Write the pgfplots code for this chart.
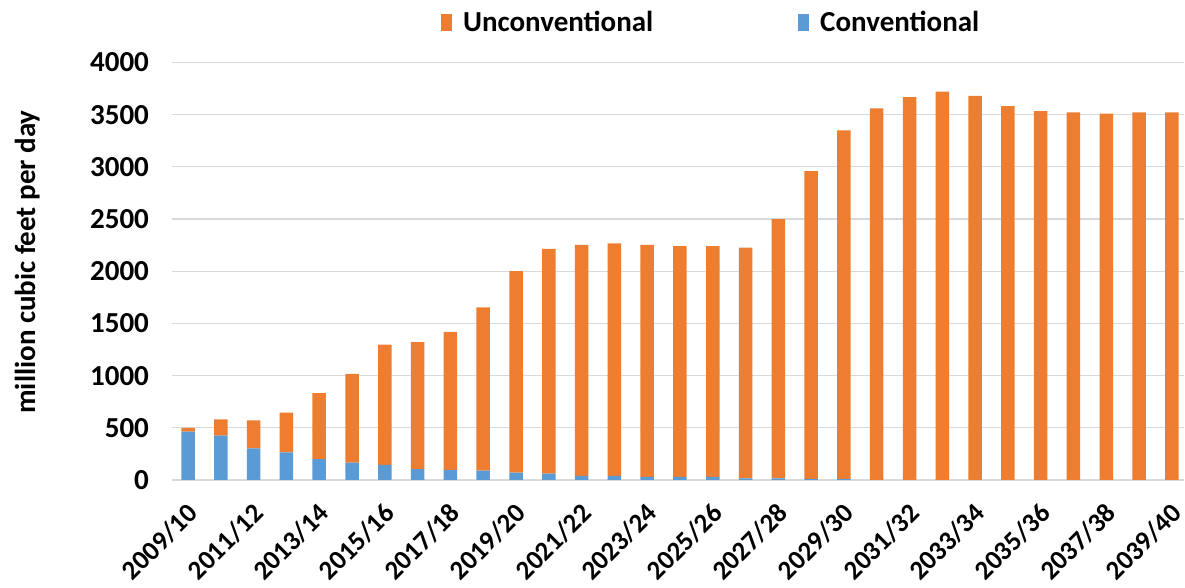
\documentclass[border=0pt]{standalone}
\usepackage{pgfplots}
\pgfplotsset{compat=1.18}
\usepackage{pgfplotstable}
\usepackage{fontspec}
\setmainfont{Carlito}
\definecolor{unc}{HTML}{ED7D31}
\definecolor{conv}{HTML}{5B9BD5}
\definecolor{gridc}{HTML}{D9D9D9}
\pgfplotstableread{
x conv unc
0 463 37
1 424 156
2 304 268
3 265 380
4 201 631
5 166 850
6 144 1152
7 103 1217
8 96 1324
9 89 1565
10 70 1930
11 60 2154
12 40 2213
13 40 2226
14 30 2223
15 30 2210
16 30 2210
17 15 2212
18 15 2485
19 10 2950
20 10 3340
21 0 3560
22 0 3669
23 0 3720
24 0 3681
25 0 3582
26 0 3535
27 0 3522
28 0 3509
29 0 3522
30 0 3522
}\datatable
\begin{document}
\begin{tikzpicture}
\path[use as bounding box] (0,0) rectangle (592.5pt,294pt);
\begin{axis}[
  at={(86pt,54pt)}, anchor=south west,
  scale only axis, width=506pt, height=208.75pt,
  ybar stacked, bar width=6.75pt,
  xmin=-0.49, xmax=30.37, ymin=0, ymax=4000,
  ytick={0,500,...,4000},
  xtick={0,2,...,30},
  xticklabels={2009/10,2011/12,2013/14,2015/16,2017/18,2019/20,2021/22,2023/24,2025/26,2027/28,2029/30,2031/32,2033/34,2035/36,2037/38,2039/40},
  major tick length=0pt,
  axis line style={draw=none},
  ymajorgrids, grid style={gridc, line width=0.6pt},
  /pgf/number format/assume math mode=true,
  /pgf/number format/1000 sep={},
  tick label style={font=\fontsize{14.5}{16}\selectfont\bfseries, text=black},
  yticklabel style={xshift=-8pt},
  xticklabel style={rotate=45, anchor=east, font=\fontsize{13.5}{15}\selectfont\bfseries, xshift=-5pt, yshift=-12pt},
  ylabel={million cubic feet per day},
  ylabel style={at={(axis description cs:-0.1431,0.522)}, anchor=center, font=\fontsize{14.5}{16}\selectfont\bfseries},
  legend columns=2,
  legend style={at={(axis description cs:0.2655,1.0946)}, anchor=west, draw=none, fill=none, inner sep=0pt,
    font=\fontsize{14.5}{16}\selectfont\bfseries,
    /tikz/every odd column/.append style={column sep=3.5pt},
    /tikz/every even column/.append style={column sep=70.5pt}},
  legend image code/.code={\path[#1] (0pt,-4.25pt) rectangle (5.5pt,4.25pt);},
]
\addplot[fill=conv, draw=none, forget plot] table[x=x, y=conv] {\datatable};
\addplot[fill=unc, draw=none] table[x=x, y=unc] {\datatable};
\addlegendentry{Unconventional}
\addlegendimage{fill=conv, draw=none}
\addlegendentry{Conventional}
\draw[gridc, line width=0.6pt] (axis cs:-0.49,0) -- (axis cs:30.37,0);
\end{axis}
\end{tikzpicture}
\end{document}
